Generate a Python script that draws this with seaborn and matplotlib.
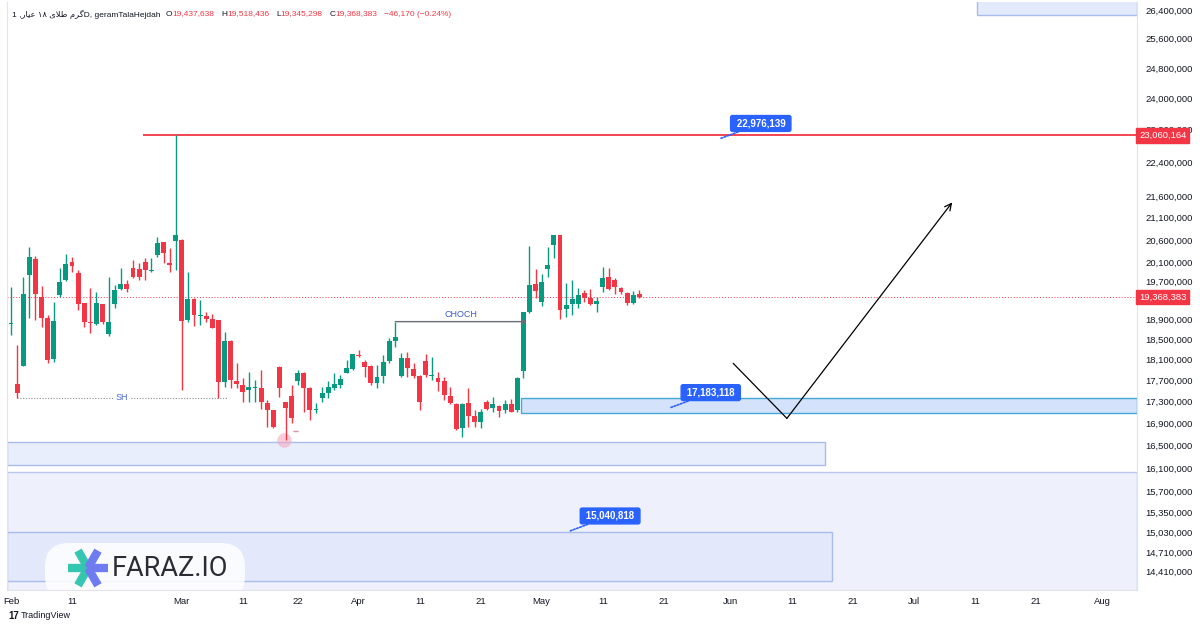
import matplotlib
matplotlib.use("Agg")
import matplotlib.pyplot as plt
import matplotlib.patches as mpatches
import matplotlib.transforms as mtransforms
from matplotlib.lines import Line2D
from matplotlib.ticker import NullLocator
import numpy as np
import pandas as pd
import seaborn as sns

# ---------- data (prices in million rials, daily bars) ----------
opens = [18.82, 17.63, 17.98, 19.84, 20.18, 19.36, 18.94, 18.12, 19.41, 19.73,
         20.11, 19.88, 19.24, 18.86, 18.82, 19.22, 18.61, 19.22, 19.53, 19.64,
         19.99, 19.96, 20.12, 19.92, 20.27, 20.55, 20.09, 20.58, 20.60, 18.89,
         19.32, 18.98, 18.98, 18.91, 18.89, 17.67, 18.47, 17.68, 17.61, 17.52,
         17.56, 17.55, 17.28, 17.14, 17.96, 17.29, 17.40, 17.69, 17.85, 17.56,
         17.15, 17.37, 17.46, 17.55, 17.61, 17.85, 17.92, 18.20, 18.06, 17.97,
         17.66, 17.79, 18.08, 18.46, 17.79, 18.14, 17.92, 17.79, 18.08, 17.79,
         17.74, 17.69, 17.40, 17.26, 16.81, 17.27, 17.04, 16.92, 17.29, 17.19,
         17.22, 17.15, 17.26, 17.14, 17.89, 19.05, 19.64, 19.27, 19.96, 20.49,
         20.71, 19.11, 19.22, 19.22, 19.45, 19.34, 19.23, 19.57, 19.80, 19.73,
         19.56, 19.46, 19.24, 19.437638]
highs = [19.58, 18.39, 19.80, 20.45, 20.24, 19.60, 19.00, 19.27, 19.98, 20.29,
         20.23, 19.94, 19.25, 19.55, 19.47, 19.23, 19.80, 19.62, 19.98, 19.73,
         20.16, 20.09, 20.20, 20.20, 20.66, 20.56, 20.42, 23.060164, 20.62, 19.90,
         19.35, 19.30, 19.06, 19.01, 18.89, 18.66, 18.49, 18.03, 17.74, 17.86,
         17.71, 17.90, 17.33, 17.15, 17.97, 17.30, 17.61, 17.90, 17.87, 17.58,
         17.27, 17.58, 17.68, 17.84, 17.80, 18.09, 18.22, 18.29, 18.09, 17.99,
         17.99, 18.19, 18.52, 18.86, 18.24, 18.26, 18.03, 17.80, 18.22, 18.16,
         17.87, 17.77, 17.58, 17.27, 17.27, 17.55, 17.15, 17.17, 17.33, 17.39,
         17.24, 17.33, 17.35, 17.77, 19.05, 20.47, 19.96, 19.85, 20.45, 20.71,
         20.71, 19.66, 19.73, 19.55, 19.51, 19.53, 19.37, 20.01, 19.98, 19.78,
         19.58, 19.47, 19.49, 19.518436]
lows = [18.59, 17.37, 17.97, 18.93, 18.89, 18.76, 18.03, 18.05, 19.37, 19.71,
        19.90, 19.10, 18.76, 18.62, 18.80, 18.82, 18.56, 19.13, 19.51, 19.47,
        19.77, 19.73, 19.73, 19.90, 20.22, 20.09, 19.90, 19.94, 17.52, 18.86,
        18.77, 18.79, 18.86, 18.73, 17.36, 17.58, 17.55, 17.55, 17.30, 17.30,
        17.30, 17.17, 16.84, 16.81, 17.39, 16.60, 16.90, 17.61, 17.11, 16.96,
        17.08, 17.30, 17.36, 17.52, 17.55, 17.84, 17.90, 18.16, 17.77, 17.61,
        17.55, 17.65, 18.03, 18.36, 17.76, 17.77, 17.74, 17.14, 17.77, 17.71,
        17.50, 17.33, 17.26, 16.78, 16.66, 16.84, 16.84, 16.81, 17.14, 17.11,
        17.02, 17.08, 17.10, 17.10, 17.74, 19.04, 19.34, 19.18, 19.80, 20.21,
        18.91, 18.96, 19.00, 19.13, 19.27, 19.20, 19.06, 19.47, 19.51, 19.44,
        19.44, 19.20, 19.23, 19.345298]
closes = [18.84, 17.46, 19.44, 20.22, 19.43, 18.93, 18.10, 18.88, 19.69, 20.07,
          20.03, 19.22, 18.86, 18.84, 19.24, 18.86, 18.86, 19.51, 19.64, 19.53,
          19.80, 19.80, 19.94, 19.94, 20.54, 20.31, 20.04, 20.70, 18.88, 19.33,
          18.99, 19.00, 18.91, 18.74, 17.67, 18.46, 17.70, 17.63, 17.49, 17.57,
          17.57, 17.30, 17.15, 16.84, 17.55, 17.19, 17.00, 17.85, 17.55, 17.14,
          17.16, 17.46, 17.57, 17.63, 17.72, 17.93, 18.21, 18.18, 17.96, 17.66,
          17.77, 18.06, 18.46, 18.54, 18.14, 17.93, 17.79, 17.30, 17.80, 17.80,
          17.67, 17.42, 17.28, 16.80, 17.26, 17.04, 16.92, 17.10, 17.17, 17.26,
          17.13, 17.26, 17.11, 17.74, 19.05, 19.62, 19.50, 19.69, 20.05, 20.71,
          19.09, 19.21, 19.32, 19.42, 19.35, 19.22, 19.28, 19.78, 19.53, 19.58,
          19.47, 19.24, 19.41, 19.368383]

# trading days (market closed 20-21 March)
bar_dates = [d for d in pd.date_range("2023-02-01", "2023-05-17")
             if d not in (pd.Timestamp("2023-03-20"), pd.Timestamp("2023-03-21"))]
future_dates = list(pd.date_range("2023-05-18", "2023-08-10"))

tick_dates = ["2023-02-01", "2023-02-11", "2023-03-01", "2023-03-11", "2023-03-22",
              "2023-04-01", "2023-04-11", "2023-04-21", "2023-05-01", "2023-05-11",
              "2023-05-21", "2023-06-01", "2023-06-11", "2023-06-21", "2023-07-01",
              "2023-07-11", "2023-07-21", "2023-08-01"]

price_ticks = [26400000, 25600000, 24800000, 24000000, 23200000, 22400000, 21600000,
               21100000, 20600000, 20100000, 19700000, 18900000, 18500000, 18100000,
               17700000, 17300000, 16900000, 16500000, 16100000, 15700000, 15350000,
               15030000, 14710000, 14410000]

# drawings on the chart (million rials)
high_level = 23.060164
last_close = 19.368383
sh_level = 17.37
choch_level = 18.86
zone_demand = (17.08, 17.37)
zone_low = (16.16, 16.56)
zone_band_top = 16.04
zone_deep = (14.25, 15.03)
zone_top = (26.26, 26.8)
price_labels = [("22,976,139", 22.976139, 116.2), ("17,183,118", 17.183118, 108.0),
                ("15,040,818", 15.040818, 91.5)]
path_prices = [18.03, 16.99, 21.45]

GREEN = "#089981"
RED = "#f23645"
BLUE = "#2962ff"
TEXT = "#131722"

sns.set_theme(style="white")
plt.rcParams["font.family"] = ["Liberation Sans", "DejaVu Sans"]

W, H = 1200, 630
fig = plt.figure(figsize=(12, 6.3), dpi=100)
ax = fig.add_axes([7 / W, 1 - 590 / H, 1130 / W, 588 / H])
ax.set_yscale("log")
x_left, x_right = -0.66, 184.6
ax.set_xlim(x_left, x_right)
ax.set_ylim(14.117, 26.63)

# ---------- zones ----------
def zone(x0, x1, lo, hi, fc, ec, lw=1.0):
    ax.add_patch(mpatches.Rectangle((x0, lo), x1 - x0, hi - lo, facecolor=fc,
                                    edgecolor=ec, linewidth=lw, zorder=1))

zone(x_left, x_right, 14.0, zone_band_top, "#eef1fc", "#b9c7ef")
zone(x_left, 134.6, zone_deep[0], zone_deep[1], "#e3e9fb", "#a9bcec")
zone(x_left, 133.4, zone_low[0], zone_low[1], "#e8eefc", "#a9bcec")
zone(83.6, x_right, zone_demand[0], zone_demand[1], "#d5e2fb", "#45a9d6")
zone(158.4, x_right, zone_top[0], zone_top[1], "#e3eafc", "#a9bcec")

# ---------- candles ----------
O = np.array(opens); Hh = np.array(highs); L = np.array(lows); C = np.array(closes)
x = np.arange(len(O))
colors = np.where(C >= O, GREEN, RED)
ax.vlines(x, L, Hh, colors=colors, linewidth=1, zorder=3)
lo = np.minimum(O, C)
hi = np.maximum(np.maximum(O, C), lo * 1.0009)
ax.bar(x, hi - lo, bottom=lo, width=0.8, color=colors, linewidth=0, zorder=4)

# ---------- lines / annotations ----------
ax.axhline(last_close, color=RED, ls=(0, (1, 2)), lw=0.7, zorder=2)
ax.hlines(high_level, 21.6, x_right, color=RED, lw=1.3, zorder=2)

# SH swing level
ax.hlines(sh_level, 1, 35.6, color="#8a8d96", lw=0.8, ls=(0, (1, 1.5)), zorder=2)
ax.text(18.2, sh_level, "SH", ha="center", va="center", fontsize=6.5, color="#4a6bd0",
        bbox=dict(boxstyle="square,pad=0.25", fc="white", ec="none"), zorder=3)

# CHOCH
ax.annotate("", xy=(84.6, choch_level), xytext=(63, choch_level),
            arrowprops=dict(arrowstyle="-|>", color="#6a6d78", lw=1, mutation_scale=6,
                            shrinkA=0, shrinkB=0), zorder=5)
ax.text(73.8, 19.0, "CHOCH", ha="center", va="center", fontsize=6.5, color="#3d5cc8")

# marker at the swing low
sns.scatterplot(x=[44.75], y=[16.60], s=110, color="#f4a3bc", alpha=0.55,
                linewidth=0, ax=ax, zorder=2)
ax.hlines(16.76, 46.2, 47.1, color="#e48ba3", lw=1, zorder=3)

# projected path
ax.plot([118.4, 127.2], path_prices[:2], color="black", lw=0.9, zorder=5)
ax.annotate("", xy=(154.3, path_prices[2]), xytext=(127.2, path_prices[1]),
            arrowprops=dict(arrowstyle="->", color="black", lw=0.9, mutation_scale=12,
                            shrinkA=0, shrinkB=0), zorder=5)

# blue price labels
for txt, val, bx in price_labels:
    ax.annotate(" " + txt + " ", xy=(bx, val), xytext=(29.5, 11.0), textcoords="offset points",
                ha="center", va="center", fontsize=7, color="white", weight="bold",
                bbox=dict(boxstyle="round,pad=0.3,rounding_size=0.2", fc=BLUE, ec=BLUE),
                arrowprops=dict(arrowstyle="-", color=BLUE, lw=1.2, ls=(0, (1, 1)),
                                shrinkA=0, shrinkB=0), zorder=8)

# ---------- axes styling ----------
ax.yaxis.tick_right()
ax.set_yticks([v / 1e6 for v in price_ticks])
ax.set_yticklabels([f"{v:,}" for v in price_ticks])
ax.yaxis.set_minor_locator(NullLocator())
timeline = bar_dates + future_dates
pos = {d: i for i, d in enumerate(timeline)}
tick_pos = [pos[pd.Timestamp(d)] for d in tick_dates]
tick_lab = [pd.Timestamp(d).strftime("%b") if pd.Timestamp(d).day == 1 else str(pd.Timestamp(d).day)
            for d in tick_dates]
ax.set_xticks(tick_pos)
ax.set_xticklabels(tick_lab)
ax.tick_params(axis="y", length=0, pad=6, labelsize=6.8, labelcolor=TEXT)
ax.tick_params(axis="x", length=0, pad=5, labelsize=6.8, labelcolor=TEXT)
for s in ["left", "right", "bottom"]:
    ax.spines[s].set_color("#e0e3eb")
    ax.spines[s].set_linewidth(0.8)
ax.spines["top"].set_visible(False)
ax.grid(False)

trans = mtransforms.blended_transform_factory(ax.transAxes, ax.transData)
for val, txt in [(high_level, "23,060,164"), (last_close, "19,368,383")]:
    ax.text(1.002, val, txt, transform=trans, ha="left", va="center", fontsize=6.8,
            color="white", clip_on=False, zorder=10,
            bbox=dict(boxstyle="square,pad=0.3", fc=RED, ec=RED))

# ---------- watermark logo ----------
ident = mtransforms.IdentityTransform()
pill = mpatches.FancyBboxPatch((45, 630 - 600), 200, 57,
                               boxstyle="round,pad=0,rounding_size=24",
                               fc="white", ec="none", alpha=0.85, transform=ident, zorder=6)
pill.set_clip_box(ax.bbox)
ax.add_artist(pill)
cx, cy = 88, 630 - 568
for ang, col in [(180, "#35c6b0"), (120, "#35c6b0"), (240, "#35c6b0"),
                 (0, "#6f7cf0"), (60, "#6f7cf0"), (300, "#6f7cf0")]:
    a = np.deg2rad(ang)
    ln = Line2D([cx, cx + 20 * np.cos(a)], [cy, cy + 20 * np.sin(a)], transform=ident,
                color=col, lw=6, solid_capstyle="butt", zorder=7)
    ln.set_clip_box(ax.bbox)
    ax.add_artist(ln)
fig.text(112, 630 - 569, "FARAZ.IO", transform=ident, fontsize=19.5, color="#2a2d36",
         family="Roboto", va="center", ha="left", zorder=8)

# ---------- header ----------
renderer = fig.canvas.get_renderer()
# "گرم طلای ۱۸ عیار" in visual (shaped) order as shown on the chart
fa_title = "\uFEAD\uFE8E\uFBFF\uFECB \u06F1\u06F8 \uFBFC\uFEFC\uFEC3 \uFEE1\uFEAE\uFB94"
header = [("1 ," + fa_title + "D, geramTalaHejdah", TEXT, 0), ("O", TEXT, 5),
          ("19,437,638", RED, 0), ("H", TEXT, 7), ("19,518,436", RED, 0),
          ("L", TEXT, 7), ("19,345,298", RED, 0), ("C", TEXT, 7),
          ("19,368,383", RED, 0), ("\u221246,170 (\u22120.24%)", RED, 7)]
xp = 12
for txt, col, gap in header:
    xp += gap
    t = fig.text(xp / W, 1 - 14 / H, txt, color=col, fontsize=6.0, va="center", ha="left")
    xp = t.get_window_extent(renderer).x1

fig.text(8 / W, 1 - 616 / H, "17", fontsize=7, weight="bold", color=TEXT, va="center")
fig.text(21 / W, 1 - 616 / H, "TradingView", fontsize=6.5, color=TEXT, va="center")

fig.savefig("out.png", dpi=100, facecolor="white")
